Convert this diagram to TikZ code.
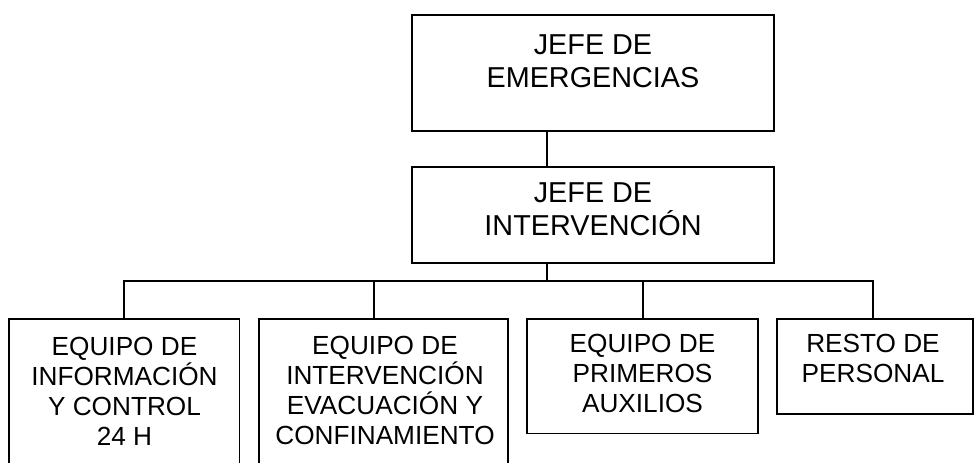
\documentclass[tikz,border=0pt]{standalone}
\usepackage{fontspec}
\setmainfont{Liberation Sans}
\tikzset{
  box/.style={draw=black, line width=1.7pt, rectangle, inner sep=0pt},
  bigtxt/.style={align=center, inner sep=0pt, anchor=north, font=\fontsize{28.8}{33}\selectfont},
  smalltxt/.style={align=center, inner sep=0pt, anchor=north, font=\fontsize{26.2}{30}\selectfont},
  conn/.style={draw=black, line width=1.7pt}
}
\begin{document}
\begin{tikzpicture}[x=1pt,y=1pt]
\useasboundingbox (0,0) rectangle (975,-463);
% boxes
\node[box, minimum width=362pt, minimum height=116pt] (emerg) at (593,-73) {};
\node[box, minimum width=362pt, minimum height=96pt] (interv) at (593,-215) {};
\node[box, minimum width=230.5pt, minimum height=180pt] (b1) at (124.25,-409) {};
\node[box, minimum width=249pt, minimum height=180pt] (b2) at (383.5,-409) {};
\node[box, minimum width=231pt, minimum height=114.5pt] (b3) at (642.5,-376.25) {};
\node[box, minimum width=196pt, minimum height=95pt] (b4) at (875,-366.5) {};
% texts
\node[bigtxt] (temerg) at (593,-34) {JEFE DE\\EMERGENCIAS};
\node[bigtxt] (tinterv) at (593,-182.5) {JEFE DE\\INTERVENCIÓN};
\node[smalltxt] (tb1) at (124.5,-337) {EQUIPO DE\\INFORMACIÓN\\Y CONTROL\\24 H};
\node[smalltxt] (tb2) at (385,-336) {EQUIPO DE\\INTERVENCIÓN\\EVACUACIÓN Y\\CONFINAMIENTO};
\node[smalltxt] (tb3) at (642.5,-334.5) {EQUIPO DE\\PRIMEROS\\AUXILIOS};
\node[smalltxt] (tb4) at (873,-334) {RESTO DE\\PERSONAL};
% connectors
\coordinate (j) at (547,-281);
\draw[conn] (emerg.south -| j) -- (interv.north -| j);
\draw[conn] (interv.south -| j) -- (j);
\draw[conn] (b1.north) |- (j) -| ([xshift=-2.3pt]b4.north);
\draw[conn] ([xshift=-9.5pt]b2.north) -- ([xshift=-9.5pt]b2.north |- j);
\draw[conn] ([xshift=0.8pt]b3.north) -- ([xshift=0.8pt]b3.north |- j);
\end{tikzpicture}
\end{document}
